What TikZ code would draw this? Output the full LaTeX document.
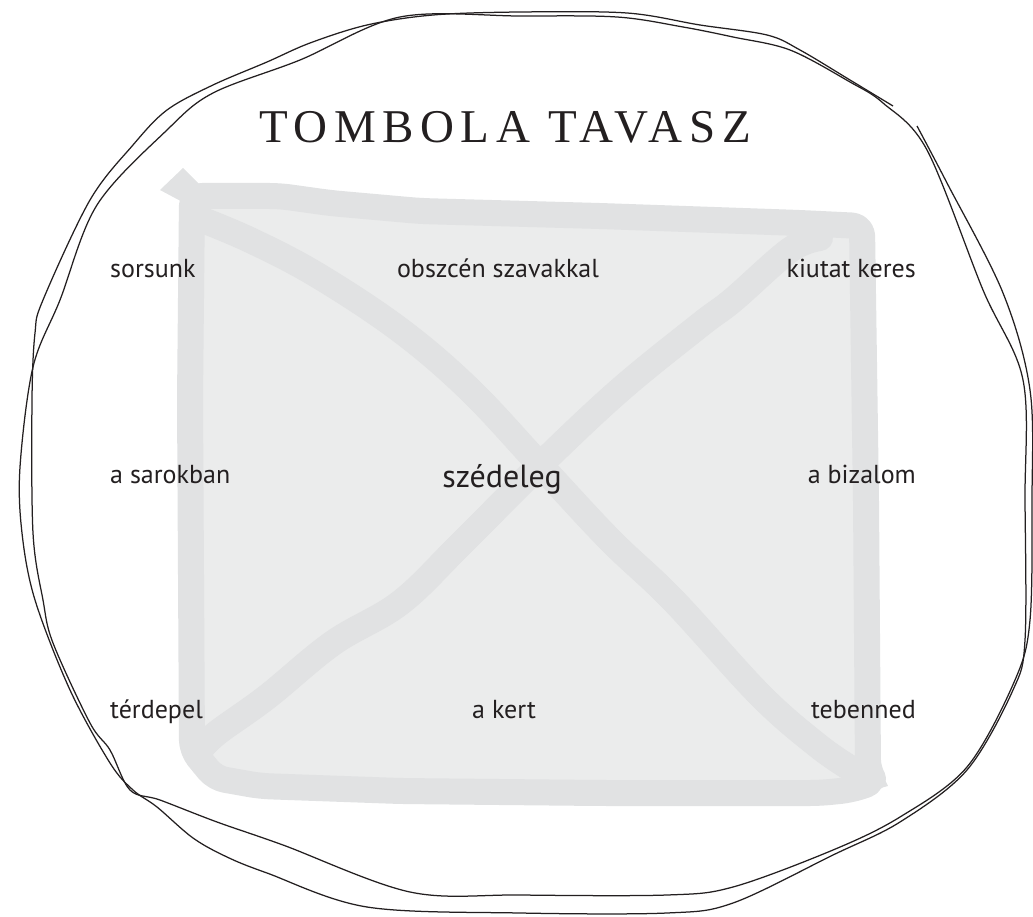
\documentclass[tikz,border=0pt]{standalone}
\usepackage{fontspec}
\setmainfont{PT Sans}
\newfontfamily\titlefont[LetterSpace=14]{Liberation Serif}
\definecolor{ink}{HTML}{231F20}
\definecolor{sqfill}{HTML}{EBECEC}
\definecolor{sqline}{HTML}{E1E2E3}
\begin{document}
\begin{tikzpicture}[x=1pt,y=-1pt,
  loopline/.style={draw=ink, line width=1.25pt},
  sqstroke/.style={draw=sqline, line width=26pt, line join=round, line cap=round},
  lbl/.style={text=ink, inner sep=0pt, font=\fontsize{26}{30}\selectfont},
  biglbl/.style={text=ink, inner sep=0pt, font=\fontsize{32}{36}\selectfont},
  ttl/.style={text=ink, inner sep=0pt, font=\titlefont\fontsize{47}{52}\selectfont}]
\useasboundingbox (0,0) rectangle (1033,917);
% square
\fill[sqfill, rounded corners=10pt] (192,196) -- (280,196) -- (330,203) -- (420,211) -- (600,216) -- (800,223) -- (862,226) -- (866,500) -- (868,770) -- (882,782) -- (850,790) -- (820,793) -- (600,793) -- (400,791) -- (260,786) -- (215,778) -- (192,750) -- (190,400) -- cycle;
\fill[sqline] (183,168) -- (160,190) -- (205,214) -- (205,190) -- cycle;
\fill[sqline] (860,770) -- (880,770) -- (888,786) -- (855,795) -- cycle;
\draw[sqstroke, rounded corners=10pt] (192,196) -- (280,196) -- (330,203) -- (420,211) -- (600,216) -- (800,223) -- (862,226) -- (866,500) -- (868,770) -- (875,782) -- (850,790) -- (820,793) -- (600,793) -- (400,791) -- (260,786) -- (215,778) -- (192,750) -- (190,400) -- cycle;
\draw[sqstroke] plot[smooth, tension=0.6] coordinates {(195,217) (250,240) (317,275) (400,330) (470,390) (540,465) (610,540) (673,600) (760,695) (817,745) (850,768)};
\draw[sqstroke] plot[smooth, tension=0.6] coordinates {(820,238) (790,250) (733,300) (700,325) (620,390) (540,465) (460,545) (400,603) (333,643) (267,697) (217,733) (200,750)};
% loops
\draw[loopline] plot[smooth, tension=0.55] coordinates {(917,126) (947,183) (1003,293) (1030,390) (1032,500) (1030,620) (1015,680) (967,767) (900,817) (833,850) (733,887) (667,895) (520,895) (410,892) (283,845) (217,822) (160,800) (130,790) (110,750) (90,723) (53,643) (43,600) (33,533) (32,400) (35,333) (43,300) (90,200) (133,145) (167,110) (213,85) (267,62) (310,43) (367,25) (433,15) (520,12) (627,13) (700,25) (767,35) (800,50) (850,80) (893,106)};
\draw[loopline] plot[smooth cycle, tension=0.55] coordinates {(520,16) (617,17) (683,27) (733,37) (790,50) (850,82) (883,103) (927,150) (983,290) (1023,380) (1025,500) (1025,640) (1013,690) (967,770) (900,822) (833,855) (733,903) (667,913) (520,913) (367,907) (267,873) (227,857) (193,838) (157,807) (133,790) (110,763) (70,690) (35,600) (22,533) (20,467) (33,367) (60,300) (97,205) (167,130) (213,93) (300,60) (400,17)};
% title
\node[ttl, anchor=base] (title) at (505,143) {TOMBOLA TAVASZ};
% labels
\node[lbl, anchor=base west] (sorsunk) at (110,278) {sorsunk};
\node[lbl, anchor=base] (obszcen) at (498,278) {obszcén szavakkal};
\node[lbl, anchor=base east] (kiutat) at (916,278) {kiutat keres};
\node[lbl, anchor=base west] (sarok) at (110,483) {a sarokban};
\node[biglbl, anchor=base] (szed) at (502,487) {szédeleg};
\node[lbl, anchor=base east] (bizalom) at (916,483) {a bizalom};
\node[lbl, anchor=base west] (terd) at (110,718) {térdepel};
\node[lbl, anchor=base] (kert) at (504,718) {a kert};
\node[lbl, anchor=base east] (tebenned) at (916,718) {tebenned};
\end{tikzpicture}
\end{document}
